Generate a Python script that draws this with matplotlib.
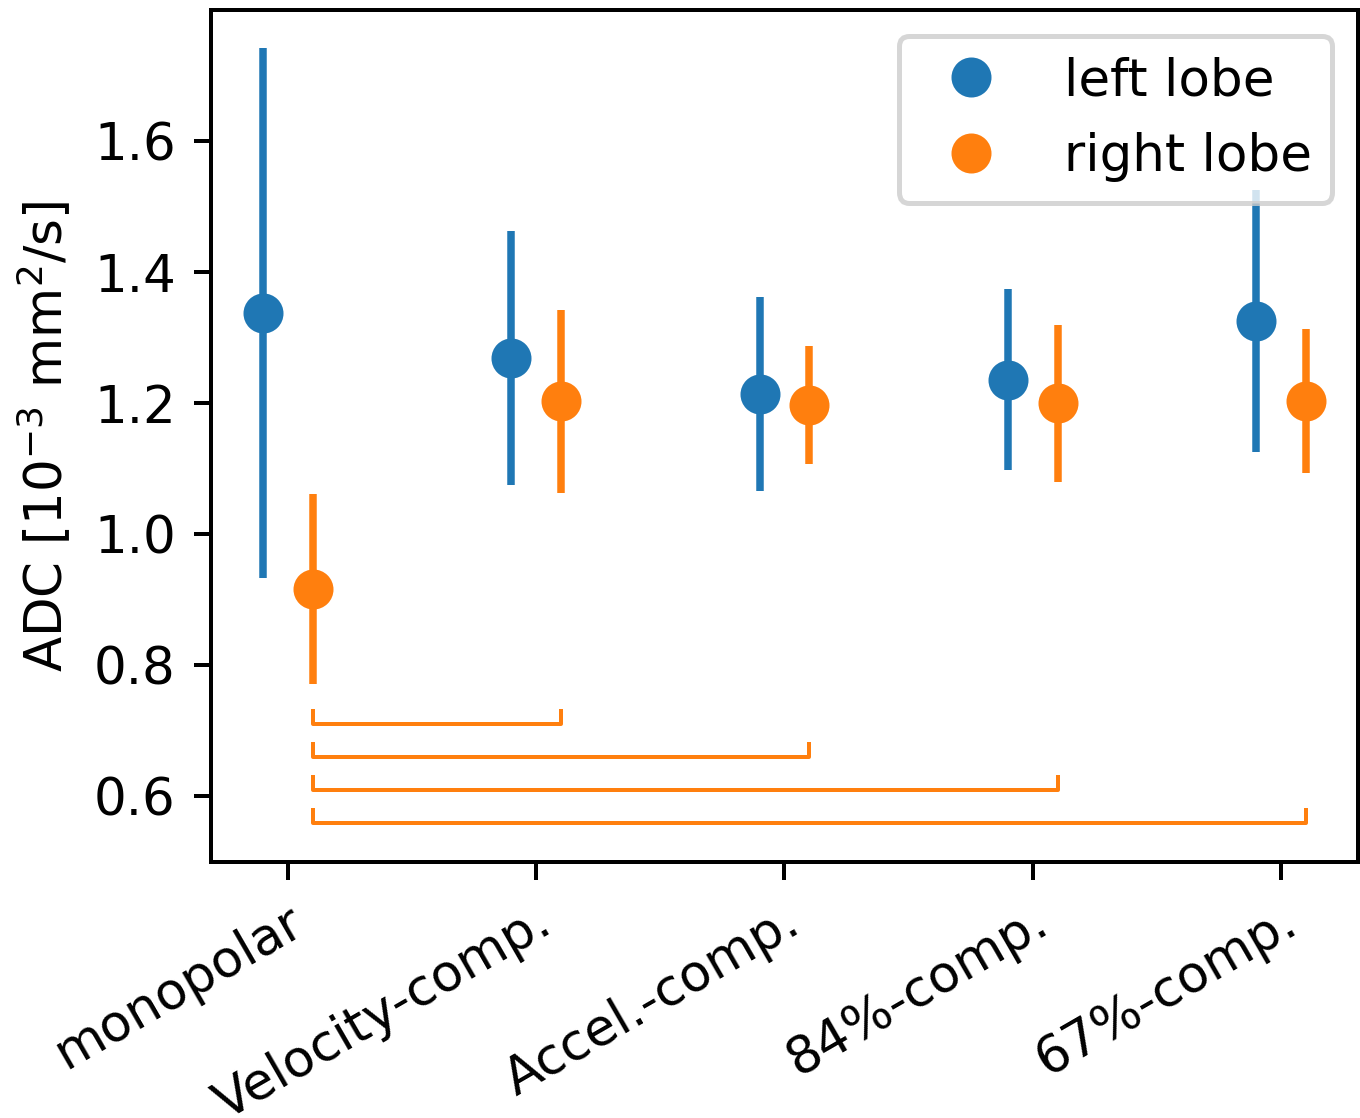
import matplotlib
matplotlib.use("Agg")
import matplotlib.pyplot as plt
import matplotlib.transforms as mtransforms
import numpy as np

kategorier = ["monopolar", "Velocity-comp.", "Accel.-comp.", "84%-comp.", "67%-comp."]

venstre_mean = [1.338, 1.269, 1.214, 1.236, 1.325]
venstre_err = [0.404, 0.194, 0.148, 0.138, 0.200]

hoyre_mean = [0.917, 1.203, 1.197, 1.200, 1.203]
hoyre_err = [0.145, 0.140, 0.090, 0.120, 0.110]

# signifikans-klammer: fra monopolar til hver av de andre (hoyre lobe)
klammer_til = [1, 2, 3, 4]
klammer_y = [0.71, 0.66, 0.61, 0.56]
klammer_h = 0.02

blaa = "#1f77b4"
oransje = "#ff7f0e"

plt.rcParams["font.size"] = 10.3

fig = plt.figure(figsize=(1360 / 360, 1118 / 360), dpi=360)
ax = fig.add_axes([0.155, 0.229, 0.8435, 0.762])

x = np.arange(len(kategorier))
xv = x - 0.1
xh = x + 0.1

ax.errorbar(xv, venstre_mean, yerr=venstre_err, fmt="none", ecolor=blaa, elinewidth=1.5)
ax.errorbar(xh, hoyre_mean, yerr=hoyre_err, fmt="none", ecolor=oransje, elinewidth=1.5)
ax.plot(xv, venstre_mean, "o", color=blaa, markersize=7, label="left lobe")
ax.plot(xh, hoyre_mean, "o", color=oransje, markersize=7, label="right lobe")

for j, yk in zip(klammer_til, klammer_y):
    x1 = xh[0]
    x2 = xh[j]
    ax.plot([x1, x1, x2, x2], [yk + klammer_h, yk, yk, yk + klammer_h],
            color=oransje, linewidth=0.8)

ax.set_xticks(x)
ax.set_xticklabels(kategorier, rotation=30, ha="right")
forskyv = mtransforms.ScaledTranslation(24 / 360, 0, fig.dpi_scale_trans)
for lab in ax.get_xticklabels():
    lab.set_transform(lab.get_transform() + forskyv)

ax.set_yticks([0.6, 0.8, 1.0, 1.2, 1.4, 1.6])
ax.set_ylim(0.5, 1.8)
ax.set_xlim(-0.31, 4.31)
ax.set_ylabel("ADC [$10^{-3}$ mm$^2$/s]")
ax.legend(loc="upper right")

fig.savefig("out.png", dpi=360)
